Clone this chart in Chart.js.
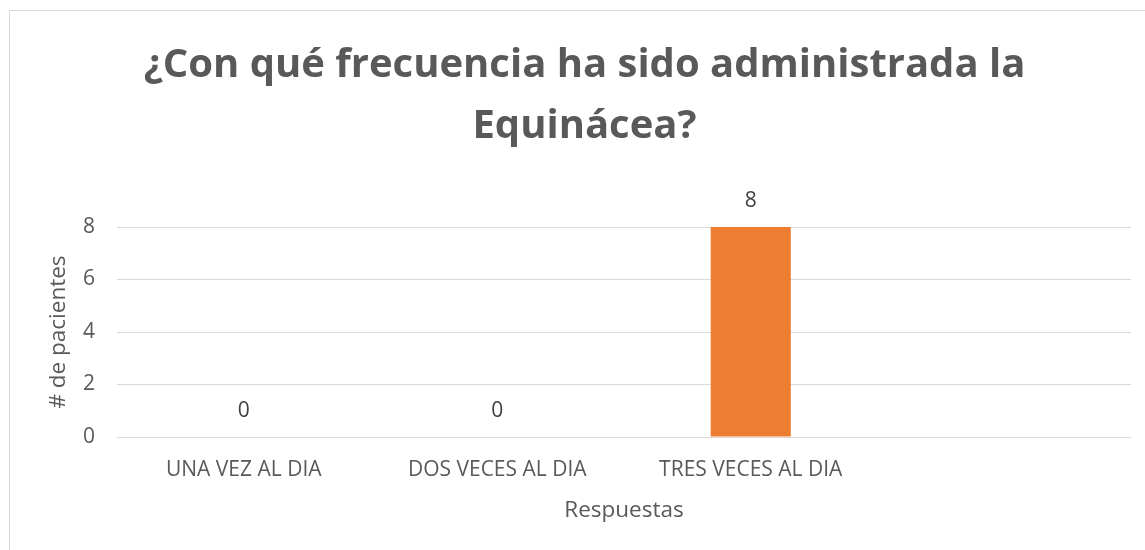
<!DOCTYPE html>
<html>
<head>
<meta charset="utf-8">
<script src="https://cdn.jsdelivr.net/npm/chart.js@4.4.1/dist/chart.umd.min.js"></script>
<style>
  html, body { margin: 0; padding: 0; background: #fff; }
  #wrap { position: relative; width: 1145px; height: 550px; }
</style>
</head>
<body>
<div id="wrap"><canvas id="c" width="1145" height="550"></canvas></div>
<script>
const categories = ["UNA VEZ AL DIA", "DOS VECES AL DIA", "TRES VECES AL DIA", ""];
const pacientes = [0, 0, 8, null];
const yTicks = [0, 2, 4, 6, 8];
const titleLines = ["¿Con qué frecuencia ha sido administrada la", "Equinácea?"];
const xTitle = "Respuestas";
const yTitle = "# de pacientes";

const FONT = "'Open Sans', 'Liberation Sans', sans-serif";
const GREY = "#595959";

const borderPlugin = {
  id: 'frame',
  beforeDraw(chart) {
    const ctx = chart.ctx;
    ctx.save();
    ctx.fillStyle = '#fff';
    ctx.fillRect(0, 0, chart.width, chart.height);
    ctx.strokeStyle = '#d9d9d9';
    ctx.lineWidth = 1;
    ctx.strokeRect(9.5, 10.5, 1300, 700);
    ctx.restore();
  }
};

const valueLabels = {
  id: 'valueLabels',
  afterDatasetsDraw(chart) {
    const ctx = chart.ctx;
    const meta = chart.getDatasetMeta(0);
    const ys = chart.scales.y;
    ctx.save();
    ctx.font = "21px " + FONT;
    ctx.fillStyle = "#404040";
    ctx.textAlign = 'center';
    ctx.textBaseline = 'middle';
    chart.data.datasets[0].data.forEach((v, i) => {
      if (v === null || v === undefined) return;
      const x = meta.data[i].x;
      const y = ys.getPixelForValue(v) - 26;
      ctx.fillText(String(v), x, y);
    });
    ctx.restore();
  }
};

new Chart(document.getElementById('c'), {
  type: 'bar',
  data: {
    labels: categories,
    datasets: [{
      data: pacientes,
      backgroundColor: '#ED7D31',
      borderWidth: 0,
      categoryPercentage: 1,
      barPercentage: 0.316
    }]
  },
  options: {
    responsive: false,
    animation: false,
    layout: { padding: { left: 38, right: 14, top: 0, bottom: 0 } },
    plugins: {
      legend: { display: false },
      tooltip: { enabled: false },
      title: {
        display: true,
        text: titleLines,
        color: GREY,
        font: { family: FONT, size: 40, weight: 'bold', lineHeight: '61px' },
        padding: { top: 35, bottom: 70 }
      }
    },
    scales: {
      x: {
        grid: { display: false },
        border: { display: false },
        ticks: {
          color: GREY,
          font: { family: FONT, size: 21 },
          padding: 12,
          maxRotation: 0,
          autoSkip: false
        },
        title: {
          display: true,
          text: xTitle,
          color: GREY,
          font: { family: FONT, size: 22.5 },
          padding: { top: 0, bottom: 26 }
        },
        afterFit(s) { s.height = 113; }
      },
      y: {
        min: 0,
        max: 8,
        afterBuildTicks(s) { s.ticks = yTicks.map(v => ({ value: v })); },
        grid: { color: '#d9d9d9', lineWidth: 1, drawTicks: false },
        border: { display: false },
        ticks: {
          color: GREY,
          font: { family: FONT, size: 21 },
          padding: 22
        },
        title: {
          display: true,
          text: yTitle,
          color: GREY,
          font: { family: FONT, size: 22.5 },
          padding: { top: 7, bottom: 0 }
        },
        afterFit(s) { s.width = 79; }
      }
    }
  },
  plugins: [borderPlugin, valueLabels]
});
</script>
</body>
</html>
